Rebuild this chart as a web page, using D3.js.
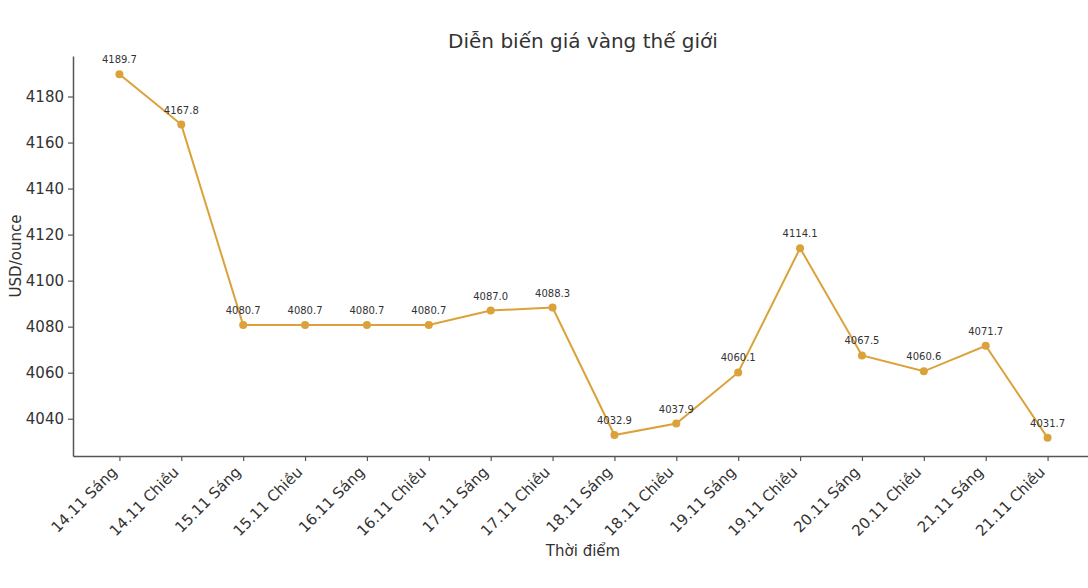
<!DOCTYPE html>
<html>
<head>
<meta charset="utf-8">
<script src="https://cdn.jsdelivr.net/npm/d3@7/dist/d3.min.js"></script>
<style>
  body { margin: 0; background: #fff; }
  text { font-family: "DejaVu Sans", sans-serif; fill: #333; }
</style>
</head>
<body>
<script>
"use strict";

var labels = ["14.11 Sáng", "14.11 Chiều", "15.11 Sáng", "15.11 Chiều", "16.11 Sáng", "16.11 Chiều",
  "17.11 Sáng", "17.11 Chiều", "18.11 Sáng", "18.11 Chiều", "19.11 Sáng", "19.11 Chiều",
  "20.11 Sáng", "20.11 Chiều", "21.11 Sáng", "21.11 Chiều"];
var prices = [4189.7, 4167.8, 4080.7, 4080.7, 4080.7, 4080.7, 4087.0, 4088.3,
  4032.9, 4037.9, 4060.1, 4114.1, 4067.5, 4060.6, 4071.7, 4031.7];
var yTicks = [4040, 4060, 4080, 4100, 4120, 4140, 4160, 4180];

var margin = {top: 56, right: -6, bottom: 132, left: 73};
var fullW = 1088, fullH = 588;
var width = fullW - margin.left - margin.right;
var height = fullH - margin.top - margin.bottom;
var lineColor = "#dba13a";

var svg = d3.select("body").append("svg")
  .attr("width", fullW)
  .attr("height", fullH);

var chart = svg.append("g")
  .attr("transform", "translate(" + margin.left + "," + margin.top + ")");

// scales with matplotlib-like 5% padding
var x = d3.scaleLinear()
  .domain([-0.75, labels.length - 1 + 0.75])
  .range([0, width]);

var yMin = d3.min(prices), yMax = d3.max(prices);
var pad = (yMax - yMin) * 0.05;
var y = d3.scaleLinear()
  .domain([yMin - pad, yMax + pad])
  .range([height, 0]);

// axes (tickSize first, it also sets the outer size)
var xAxis = d3.axisBottom(x)
  .tickValues(d3.range(labels.length))
  .tickFormat(function(i) { return labels[i]; })
  .tickSize(5)
  .tickSizeOuter(0);

var yAxis = d3.axisLeft(y)
  .tickValues(yTicks)
  .tickFormat(d3.format("d"))
  .tickSize(5)
  .tickSizeOuter(0);

var gx = chart.append("g")
  .attr("transform", "translate(0," + height + ")")
  .call(xAxis);

gx.selectAll("text")
  .attr("font-size", 15)
  .attr("text-anchor", "end")
  .attr("dy", null)
  .attr("y", null)
  .attr("transform", "translate(-2,17) rotate(-45)");

var gy = chart.append("g").call(yAxis);
gy.selectAll("text").attr("font-size", 15).attr("x", -9);

chart.selectAll(".domain").attr("stroke", "#555").attr("stroke-width", 1.5);
chart.selectAll(".tick line").attr("stroke", "#555").attr("stroke-width", 1.2);

// line and markers
var line = d3.line()
  .x(function(d, i) { return x(i); })
  .y(function(d) { return y(d); });

chart.append("path")
  .datum(prices)
  .attr("fill", "none")
  .attr("stroke", lineColor)
  .attr("stroke-width", 2)
  .attr("d", line);

chart.selectAll("circle.pt")
  .data(prices)
  .enter().append("circle")
  .attr("class", "pt")
  .attr("cx", function(d, i) { return x(i); })
  .attr("cy", function(d) { return y(d); })
  .attr("r", 4)
  .attr("fill", lineColor);

chart.selectAll("text.val")
  .data(prices)
  .enter().append("text")
  .attr("class", "val")
  .attr("x", function(d, i) { return x(i); })
  .attr("y", function(d) { return y(d) - 11; })
  .attr("text-anchor", "middle")
  .attr("font-size", 10)
  .text(function(d) { return d.toFixed(1); });

// titles
svg.append("text")
  .attr("x", 583)
  .attr("y", 48)
  .attr("text-anchor", "middle")
  .attr("font-size", 20)
  .text("Diễn biến giá vàng thế giới");

svg.append("text")
  .attr("x", 583)
  .attr("y", 556)
  .attr("text-anchor", "middle")
  .attr("font-size", 15)
  .text("Thời điểm");

svg.append("text")
  .attr("transform", "translate(21," + (margin.top + height / 2) + ") rotate(-90)")
  .attr("text-anchor", "middle")
  .attr("font-size", 15)
  .text("USD/ounce");
</script>
</body>
</html>
